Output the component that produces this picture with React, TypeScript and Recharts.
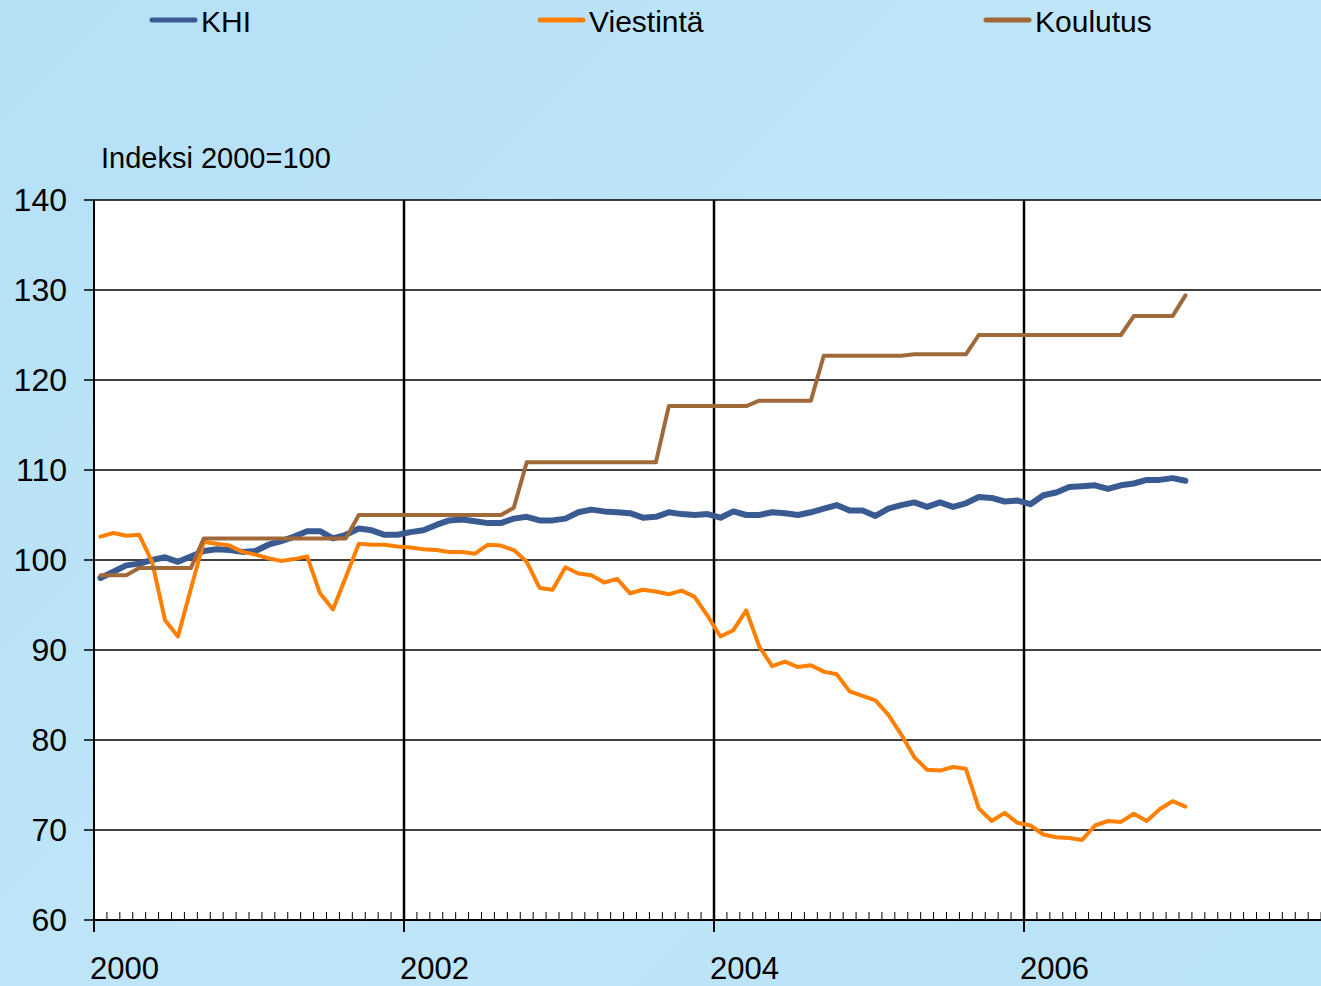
import React from "react";
import { LineChart, Line, XAxis, YAxis, CartesianGrid, ReferenceLine } from "recharts";

// monthly index values, Jan 2000 .. Jan 2007 (2000 = 100)
const khi = [
  98.0, 98.7, 99.4, 99.6, 100.0, 100.3, 99.8, 100.4, 101.0, 101.2, 101.1, 100.9,
  101.0, 101.7, 102.1, 102.6, 103.2, 103.2, 102.4, 102.8, 103.5, 103.3, 102.8, 102.8,
  103.1, 103.3, 103.9, 104.4, 104.5, 104.3, 104.1, 104.1, 104.6, 104.8, 104.4, 104.4,
  104.6, 105.3, 105.6, 105.4, 105.3, 105.2, 104.7, 104.8, 105.3, 105.1, 105.0, 105.1,
  104.7, 105.4, 105.0, 105.0, 105.3, 105.2, 105.0, 105.3, 105.7, 106.1, 105.5, 105.5,
  104.9, 105.7, 106.1, 106.4, 105.9, 106.4, 105.9, 106.3, 107.0, 106.9, 106.5, 106.6,
  106.2, 107.2, 107.5, 108.1, 108.2, 108.3, 107.9, 108.3, 108.5, 108.9, 108.9, 109.1,
  108.8,
];

const viestinta = [
  102.6, 103.0, 102.7, 102.8, 99.8, 93.3, 91.5, 96.8, 102.0, 101.8, 101.6, 100.9,
  100.6, 100.2, 99.9, 100.1, 100.4, 96.3, 94.5, 98.1, 101.8, 101.7, 101.7, 101.5,
  101.4, 101.2, 101.1, 100.9, 100.9, 100.7, 101.7, 101.6, 101.1, 99.8, 96.9, 96.7,
  99.2, 98.5, 98.3, 97.5, 97.9, 96.3, 96.7, 96.5, 96.2, 96.6, 95.9, 93.8,
  91.5, 92.2, 94.4, 90.4, 88.2, 88.7, 88.1, 88.3, 87.6, 87.3, 85.4, 84.9,
  84.4, 82.8, 80.6, 78.1, 76.7, 76.6, 77.0, 76.8, 72.4, 71.0, 71.9, 70.8,
  70.5, 69.5, 69.2, 69.1, 68.9, 70.5, 71.0, 70.9, 71.8, 71.0, 72.3, 73.2,
  72.6,
];

const koulutus = [
  98.3, 98.3, 98.3, 99.1, 99.1, 99.1, 99.1, 99.1, 102.4, 102.4, 102.4, 102.4,
  102.4, 102.4, 102.4, 102.4, 102.4, 102.4, 102.4, 102.4, 105.0, 105.0, 105.0, 105.0,
  105.0, 105.0, 105.0, 105.0, 105.0, 105.0, 105.0, 105.0, 105.8, 110.85, 110.85, 110.85,
  110.85, 110.85, 110.85, 110.85, 110.85, 110.85, 110.85, 110.85, 117.1, 117.1, 117.1, 117.1,
  117.1, 117.1, 117.1, 117.7, 117.7, 117.7, 117.7, 117.7, 122.7, 122.7, 122.7, 122.7,
  122.7, 122.7, 122.7, 122.85, 122.85, 122.85, 122.85, 122.85, 125.0, 125.0, 125.0, 125.0,
  125.0, 125.0, 125.0, 125.0, 125.0, 125.0, 125.0, 125.0, 127.1, 127.1, 127.1, 127.1,
  129.4,
];

const yearLabels = ["2000", "2002", "2004", "2006"];
const yTicks = [60, 70, 80, 90, 100, 110, 120, 130, 140];
const seriesNames = ["KHI", "Viestintä", "Koulutus"];
const seriesColors = ["#3a5b91", "#ff8000", "#a0693a"];

const data = khi.map((v, i) => ({
  m: i + 0.5,
  khi: v,
  viestinta: viestinta[i],
  koulutus: koulutus[i],
}));

const monthTicks = Array.from({ length: 97 }, (_, i) => i);
const FONT = "Arial, 'Liberation Sans', sans-serif";

function MonthTick(props: any) {
  const { x, y, payload } = props;
  const m = payload.value;
  const major = m % 24 === 0;
  return (
    <g>
      <line x1={x} x2={x} y1={y} y2={y - 8} stroke="#000" strokeWidth={1} />
      {major && <line x1={x} x2={x} y1={y} y2={y + 12} stroke="#000" strokeWidth={2} />}
      {major && yearLabels[m / 24] && (
        <text x={x - 4} y={y + 59} fontSize={31} fontFamily={FONT} fill="#000" textAnchor="start">
          {yearLabels[m / 24]}
        </text>
      )}
    </g>
  );
}

const legendX = [152, 540, 986];

export default function App() {
  return (
    <div
      style={{
        position: "relative",
        width: 1321,
        height: 986,
        overflow: "hidden",
        background: "linear-gradient(135deg, #b4e0f6 0%, #bfe5f8 50%, #b9e3f7 100%)",
        fontFamily: FONT,
      }}
    >
      <style>{`body{margin:0}`}</style>
      <svg width={1321} height={986} style={{ position: "absolute", left: 0, top: 0 }}>
        {legendX.map((lx, i) => (
          <g key={seriesNames[i]}>
            <line x1={lx} x2={lx + 43} y1={20} y2={20} stroke={seriesColors[i]} strokeWidth={5} strokeLinecap="round" />
            <text x={lx + 49} y={32} fontSize={30} fill="#000" fontFamily={FONT}>
              {seriesNames[i]}
            </text>
          </g>
        ))}
        <text x={101} y={168} fontSize={29} fill="#000" fontFamily={FONT}>
          Indeksi 2000=100
        </text>
      </svg>
      <div style={{ position: "absolute", left: 0, top: 0 }}>
        <LineChart width={1340} height={986} data={data} margin={{ top: 200, right: 6, bottom: 0, left: 0 }}>
          <CartesianGrid vertical={false} stroke="#000" strokeWidth={1.5} fill="#ffffff" fillOpacity={1} />
          <XAxis
            type="number"
            dataKey="m"
            domain={[0, 96]}
            ticks={monthTicks}
            interval={0}
            height={66}
            tickSize={0}
            tickMargin={0}
            tickLine={false}
            axisLine={{ stroke: "#000", strokeWidth: 2 }}
            tick={<MonthTick />}
          />
          <YAxis
            type="number"
            domain={[60, 140]}
            ticks={yTicks}
            interval={0}
            width={94}
            tickSize={10}
            tickMargin={17}
            axisLine={{ stroke: "#000", strokeWidth: 2 }}
            tickLine={{ stroke: "#000", strokeWidth: 1.5 }}
            tick={{ fill: "#000", fontSize: 32, fontFamily: FONT }}
          />
          {[24, 48, 72].map((x) => (
            <ReferenceLine key={x} x={x} stroke="#000" strokeWidth={2.5} />
          ))}
          <Line type="linear" dataKey="khi" stroke={seriesColors[0]} strokeWidth={6} dot={false} strokeLinejoin="round" strokeLinecap="round" isAnimationActive={false} />
          <Line type="linear" dataKey="viestinta" stroke={seriesColors[1]} strokeWidth={4} dot={false} strokeLinejoin="round" strokeLinecap="round" isAnimationActive={false} />
          <Line type="linear" dataKey="koulutus" stroke={seriesColors[2]} strokeWidth={4} dot={false} strokeLinejoin="round" strokeLinecap="round" isAnimationActive={false} />
        </LineChart>
      </div>
    </div>
  );
}
